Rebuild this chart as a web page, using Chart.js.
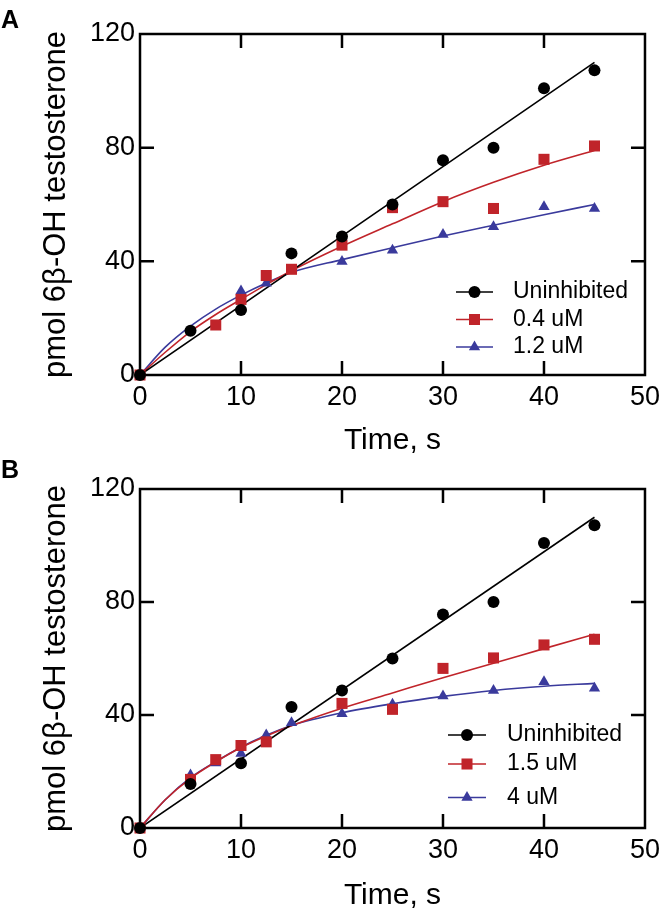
<!DOCTYPE html>
<html>
<head>
<meta charset="utf-8">
<script src="https://cdn.jsdelivr.net/npm/chart.js"></script>
<style>
    body { margin: 0; background: #fff; width: 666px; height: 919px; position: relative; overflow: hidden; font-family: 'Liberation Sans', Arial, sans-serif; }
    .panel { position: absolute; left: 0; width: 666px; height: 460px; }
    .letter { position: absolute; left: 1px; font-weight: bold; font-size: 25px; line-height: 25px; z-index: 2; }
</style>
</head>
<body>
<div class="panel" style="top:0"><canvas id="chartA"></canvas></div>
<div class="panel" style="top:455px"><canvas id="chartB"></canvas></div>
<div class="letter" style="top:7px">A</div>
<div class="letter" style="top:457px">B</div>
<script>
// shared uninhibited series
const timeUninhibited = [0, 5, 10, 15, 20, 25, 30, 35, 40, 45];
const uninhibited = [0, 15.6, 22.9, 42.8, 48.7, 60, 75.6, 80, 100.9, 107.2];
const lineT = [0, 45];
const uninhibitedFit = [0, 110];

const fitT = [0, 2.5, 5, 7.5, 10, 12.5, 15, 20, 25, 30, 35, 40, 45];

// panel A
const labelsA = ['Uninhibited', '0.4 uM', '1.2 uM'];
const timeA04 = [0, 7.5, 10, 12.5, 15, 20, 25, 30, 35, 40, 45];
const a04 = [0, 17.6, 26.6, 35, 37.2, 45.7, 58.9, 61, 58.6, 75.9, 80.6];
const timeA12 = [0, 10, 12.5, 15, 20, 25, 30, 35, 40, 45];
const a12 = [0, 29.6, 32.3, 36.8, 39.9, 43.9, 49.4, 52.2, 59.2, 58.6];
const a04Fit = [0, 8, 15.3, 21.3, 26.6, 31.8, 36.7, 45.3, 53.2, 61, 67.8, 73.8, 79];
const a12Fit = [0, 9.8, 17.2, 23.2, 28.1, 32.4, 36.1, 40.6, 44.8, 48.9, 52.7, 56.4, 60];

// panel B
const labelsB = ['Uninhibited', '1.5 uM', '4 uM'];
const timeB15 = [0, 5, 7.5, 10, 12.5, 20, 25, 30, 35, 40, 45];
const b15 = [0, 17.2, 24.2, 29.2, 30.5, 44.1, 42, 56.5, 60.2, 64.8, 66.8];
const timeB4 = [0, 5, 7.5, 10, 12.5, 15, 20, 25, 30, 35, 40, 45];
const b4 = [0, 18.8, 23, 26.4, 32.9, 37.3, 40.4, 43.8, 46.7, 48.7, 51.8, 49.5];
const b15Fit = [0, 10, 17.6, 23.4, 28.5, 32.6, 36.2, 42.4, 47.8, 53.2, 58.3, 63.5, 68.6];
const b4Fit = [0, 10, 17.8, 23.5, 28.6, 32.8, 36.3, 40.8, 44, 46.6, 48.7, 50.2, 51.2];

const BLACK = '#000000';
const RED = '#c0242a';
const BLUE = '#3a3a9c';
const FONT = "'Liberation Sans', Arial, sans-serif";

const pts = (xs, ys) => xs.map((x, i) => ({ x: x, y: ys[i] }));

function markers(data, color, style, radius, order) {
    return { data: data, showLine: false, pointStyle: style, pointRadius: radius,
        pointBackgroundColor: color, pointBorderColor: color, pointBorderWidth: 0,
        clip: false, order: order };
}

function curve(data, color, order) {
    return { data: data, showLine: true, pointRadius: 0, borderColor: color,
        borderWidth: 1.6, cubicInterpolationMode: 'monotone', order: order };
}

// box with inward ticks on all four sides
const frame = {
    id: 'frame',
    beforeDatasetsDraw(chart) {
        const { ctx, chartArea: a, scales: { x, y } } = chart;
        const len = 14;
        ctx.save();
        ctx.strokeStyle = BLACK;
        ctx.lineWidth = 2.5;
        ctx.strokeRect(a.left, a.top, a.right - a.left, a.bottom - a.top);
        ctx.beginPath();
        x.ticks.forEach(t => {
            if (t.value <= x.min || t.value >= x.max) return;
            const px = x.getPixelForValue(t.value);
            ctx.moveTo(px, a.bottom); ctx.lineTo(px, a.bottom - len);
            ctx.moveTo(px, a.top); ctx.lineTo(px, a.top + len);
        });
        y.ticks.forEach(t => {
            if (t.value <= y.min || t.value >= y.max) return;
            const py = y.getPixelForValue(t.value);
            ctx.moveTo(a.left, py); ctx.lineTo(a.left + len, py);
            ctx.moveTo(a.right, py); ctx.lineTo(a.right - len, py);
        });
        ctx.stroke();
        ctx.restore();
    }
};

function drawMarker(ctx, style, r, cx, cy) {
    ctx.beginPath();
    if (style === 'circle') {
        ctx.arc(cx, cy, r, 0, Math.PI * 2);
    } else if (style === 'rect') {
        const s = r * Math.SQRT1_2;
        ctx.rect(cx - s, cy - s, 2 * s, 2 * s);
    } else {
        ctx.moveTo(cx, cy - r);
        ctx.lineTo(cx + r * Math.sin(Math.PI * 2 / 3), cy + r / 2);
        ctx.lineTo(cx - r * Math.sin(Math.PI * 2 / 3), cy + r / 2);
        ctx.closePath();
    }
    ctx.fill();
}

function makeKey(labels, pos) {
    return {
        id: 'key',
        afterDraw(chart) {
            const ctx = chart.ctx;
            ctx.save();
            labels.forEach((label, i) => {
                const ds = chart.data.datasets[i];
                const yy = pos.rows[i];
                ctx.strokeStyle = ds.pointBackgroundColor;
                ctx.fillStyle = ds.pointBackgroundColor;
                ctx.lineWidth = 1.6;
                ctx.beginPath();
                ctx.moveTo(pos.x0, yy); ctx.lineTo(pos.x1, yy);
                ctx.stroke();
                drawMarker(ctx, ds.pointStyle, ds.pointRadius, (pos.x0 + pos.x1) / 2, yy);
                ctx.fillStyle = BLACK;
                ctx.font = '23px ' + FONT;
                ctx.textBaseline = 'middle';
                ctx.fillText(label, pos.tx, yy);
            });
            ctx.restore();
        }
    };
}

function createPanel(id, datasets, labels, keyPos, xHeight) {
    const ctx = document.getElementById(id).getContext('2d');
    return new Chart(ctx, {
        type: 'scatter',
        data: { datasets: datasets },
        options: {
            responsive: true,
            maintainAspectRatio: false,
            animation: false,
            layout: { padding: { top: 34, right: 16, left: 0, bottom: 0 } },
            plugins: { legend: { display: false }, tooltip: { enabled: false } },
            scales: {
                x: {
                    type: 'linear', min: 0, max: 50,
                    ticks: { stepSize: 10, color: BLACK, padding: 6, font: { family: FONT, size: 27 } },
                    grid: { display: false, drawTicks: false },
                    border: { display: false },
                    title: { display: true, text: 'Time, s', color: BLACK,
                        font: { family: FONT, size: 30 }, padding: { top: 0, bottom: 1 } },
                    afterFit: (scale) => { scale.height = xHeight; }
                },
                y: {
                    type: 'linear', min: 0, max: 120,
                    ticks: { stepSize: 40, color: BLACK, padding: 5, font: { family: FONT, size: 27 } },
                    grid: { display: false, drawTicks: false },
                    border: { display: false },
                    title: { display: true, text: 'pmol 6β-OH testosterone', color: BLACK,
                        font: { family: FONT, size: 31 }, padding: { top: 38, bottom: 0 } },
                    afterFit: (scale) => { scale.width = 140; }
                }
            }
        },
        plugins: [frame, makeKey(labels, keyPos)]
    });
}

createPanel('chartA', [
    markers(pts(timeUninhibited, uninhibited), BLACK, 'circle', 6, 0),
    markers(pts(timeA04, a04), RED, 'rect', 7.8, 1),
    markers(pts(timeA12, a12), BLUE, 'triangle', 6.5, 2),
    curve(pts(lineT, uninhibitedFit), BLACK, 3),
    curve(pts(fitT, a04Fit), RED, 4),
    curve(pts(fitT, a12Fit), BLUE, 5)
], labelsA, { x0: 456, x1: 493, tx: 513, rows: [292, 319.5, 347] }, 85);

createPanel('chartB', [
    markers(pts(timeUninhibited, uninhibited), BLACK, 'circle', 6, 0),
    markers(pts(timeB15, b15), RED, 'rect', 7.8, 1),
    markers(pts(timeB4, b4), BLUE, 'triangle', 6.5, 2),
    curve(pts(lineT, uninhibitedFit), BLACK, 3),
    curve(pts(fitT, b15Fit), RED, 4),
    curve(pts(fitT, b4Fit), BLUE, 5)
], labelsB, { x0: 448, x1: 486, tx: 507, rows: [280, 309, 342.5] }, 87);
</script>
</body>
</html>
